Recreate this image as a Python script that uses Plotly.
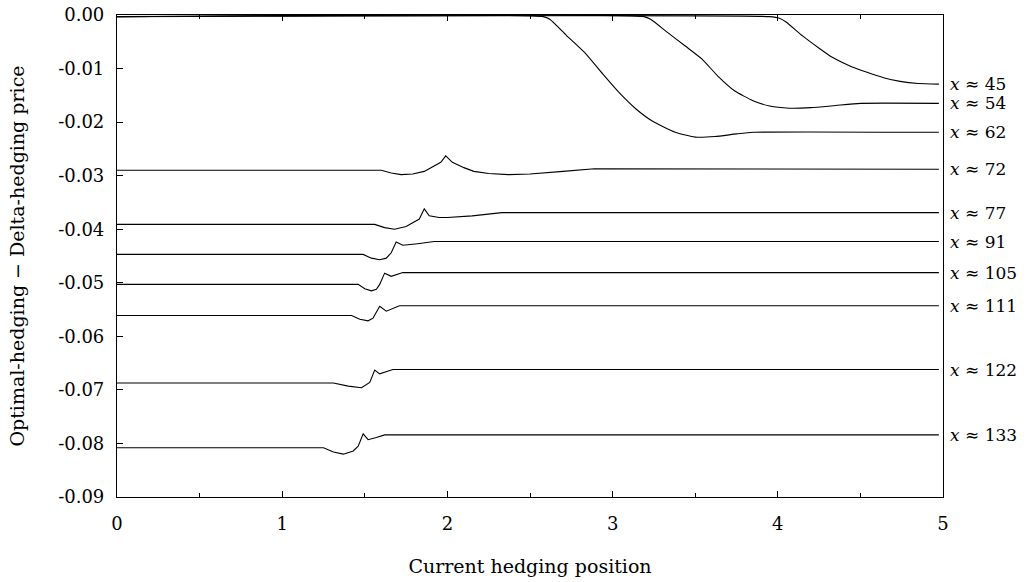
import plotly.graph_objects as go

# ---- data ----
pos_45 = [0.0, 3.95, 4.01, 4.05, 4.15, 4.25, 4.33, 4.45, 4.54, 4.64, 4.74, 4.85, 4.975]
val_45 = [-0.0003, -0.0003, -0.0006, -0.0013, -0.0039, -0.0062, -0.0079, -0.0097, -0.0107, -0.0117, -0.0124, -0.0128, -0.0129]

pos_54 = [0.0, 3.19, 3.23, 3.33, 3.44, 3.54, 3.64, 3.74, 3.85, 3.95, 4.07, 4.2, 4.35, 4.5, 4.975]
val_54 = [-0.0003, -0.0003, -0.0008, -0.0032, -0.0058, -0.0082, -0.0115, -0.0142, -0.0160, -0.0170, -0.0174, -0.0173, -0.0169, -0.0165, -0.0165]

pos_62 = [0.0, 2.58, 2.62, 2.72, 2.83, 2.94, 3.04, 3.14, 3.24, 3.38, 3.5, 3.62, 3.75, 3.85, 4.975]
val_62 = [-0.0003, -0.0003, -0.0008, -0.0038, -0.0070, -0.0110, -0.0145, -0.0175, -0.0198, -0.0219, -0.0228, -0.0227, -0.0222, -0.0219, -0.0219]

pos_72 = [0.0, 1.6, 1.66, 1.72, 1.79, 1.86, 1.96, 1.99, 2.03, 2.1, 2.16, 2.25, 2.37, 2.5, 2.7, 2.89, 4.975]
val_72 = [-0.0290, -0.0290, -0.0295, -0.0298, -0.0297, -0.0292, -0.0275, -0.0263, -0.0275, -0.0285, -0.0292, -0.0296, -0.0298, -0.0297, -0.0292, -0.0287, -0.0288]

pos_77 = [0.0, 1.56, 1.62, 1.68, 1.75, 1.83, 1.86, 1.89, 1.95, 2.0, 2.15, 2.33, 4.975]
val_77 = [-0.0391, -0.0391, -0.0397, -0.0400, -0.0395, -0.0381, -0.0362, -0.0375, -0.0378, -0.0378, -0.0375, -0.0369, -0.0369]

pos_91 = [0.0, 1.49, 1.54, 1.59, 1.63, 1.66, 1.69, 1.73, 1.82, 1.92, 4.975]
val_91 = [-0.0447, -0.0447, -0.0454, -0.0457, -0.0454, -0.0444, -0.0424, -0.0430, -0.0427, -0.0423, -0.0423]

pos_105 = [0.0, 1.46, 1.5, 1.54, 1.57, 1.59, 1.62, 1.66, 1.73, 4.975]
val_105 = [-0.0503, -0.0503, -0.0511, -0.0515, -0.0512, -0.0503, -0.0482, -0.0488, -0.0481, -0.0481]

pos_111 = [0.0, 1.42, 1.47, 1.52, 1.55, 1.59, 1.63, 1.71, 4.975]
val_111 = [-0.0561, -0.0561, -0.0568, -0.0571, -0.0566, -0.0544, -0.0553, -0.0543, -0.0543]

pos_122 = [0.0, 1.31, 1.4, 1.48, 1.53, 1.56, 1.59, 1.67, 4.975]
val_122 = [-0.0687, -0.0687, -0.0693, -0.0696, -0.0686, -0.0663, -0.0670, -0.0662, -0.0662]

pos_133 = [0.0, 1.25, 1.31, 1.37, 1.43, 1.46, 1.49, 1.52, 1.57, 1.62, 4.975]
val_133 = [-0.0808, -0.0808, -0.0816, -0.0820, -0.0814, -0.0805, -0.0782, -0.0793, -0.0789, -0.0784, -0.0784]

curve_names = ["45", "54", "62", "72", "77", "91", "105", "111", "122", "133"]
curve_pos = [pos_45, pos_54, pos_62, pos_72, pos_77, pos_91, pos_105, pos_111, pos_122, pos_133]
curve_val = [val_45, val_54, val_62, val_72, val_77, val_91, val_105, val_111, val_122, val_133]
smooth_curves = ["45", "54", "62"]

x_tick_vals = [0, 1, 2, 3, 4, 5]
x_tick_text = ["0", "1", "2", "3", "4", "5"]
y_tick_vals = [0.0, -0.01, -0.02, -0.03, -0.04, -0.05, -0.06, -0.07, -0.08, -0.09]
y_tick_text = ["0.00", "-0.01", "-0.02", "-0.03", "-0.04", "-0.05", "-0.06", "-0.07", "-0.08", "-0.09"]

FONT = "DejaVu Serif"
FS = 18

fig = go.Figure()
for name, xs, ys in zip(curve_names, curve_pos, curve_val):
    if name in smooth_curves:
        line = dict(color="black", width=1.1, shape="spline", smoothing=0.5)
    else:
        line = dict(color="black", width=1.1, shape="linear")
    fig.add_trace(go.Scatter(x=xs, y=ys, mode="lines", name=name, line=line,
                             showlegend=False, hoverinfo="skip", cliponaxis=True))
    fig.add_annotation(x=1, xref="paper", y=ys[-1], yref="y",
                       text="<i>x</i> \u2248 " + name, showarrow=False,
                       xanchor="left", yanchor="middle", xshift=5,
                       font=dict(family=FONT, size=17, color="black"))

fig.update_layout(
    width=1028, height=582,
    margin=dict(l=117, r=85, t=15, b=85),
    paper_bgcolor="white", plot_bgcolor="white",
    font=dict(family=FONT, size=FS, color="black"),
    xaxis=dict(range=[0, 5], tickmode="array", tickvals=x_tick_vals, ticktext=x_tick_text,
               ticks="inside", ticklen=6, tickwidth=1, tickcolor="black",
               minor=dict(dtick=0.5, ticks="inside", ticklen=4, tickcolor="black", tickwidth=1),
               showline=True, linecolor="black", linewidth=1.2, mirror="ticks",
               showgrid=False, zeroline=False, ticklabelstandoff=10, automargin=False,
               tickfont=dict(family=FONT, size=FS),
               title=dict(text="Current hedging position", standoff=26,
                          font=dict(family=FONT, size=19))),
    yaxis=dict(range=[-0.09, 0.0], tickmode="array", tickvals=y_tick_vals, ticktext=y_tick_text,
               ticks="inside", ticklen=6, tickwidth=1, tickcolor="black",
               showline=True, linecolor="black", linewidth=1.2, mirror=True,
               showgrid=False, zeroline=False, ticklabelstandoff=8, automargin=False,
               ticklabeloverflow="allow",
               tickfont=dict(family=FONT, size=FS),
               title=dict(text="Optimal-hedging \u2212 Delta-hedging price", standoff=28,
                          font=dict(family=FONT, size=19))),
)

fig.write_html("out.html", config={"displayModeBar": False},
               post_script="document.body.style.margin='0';")
